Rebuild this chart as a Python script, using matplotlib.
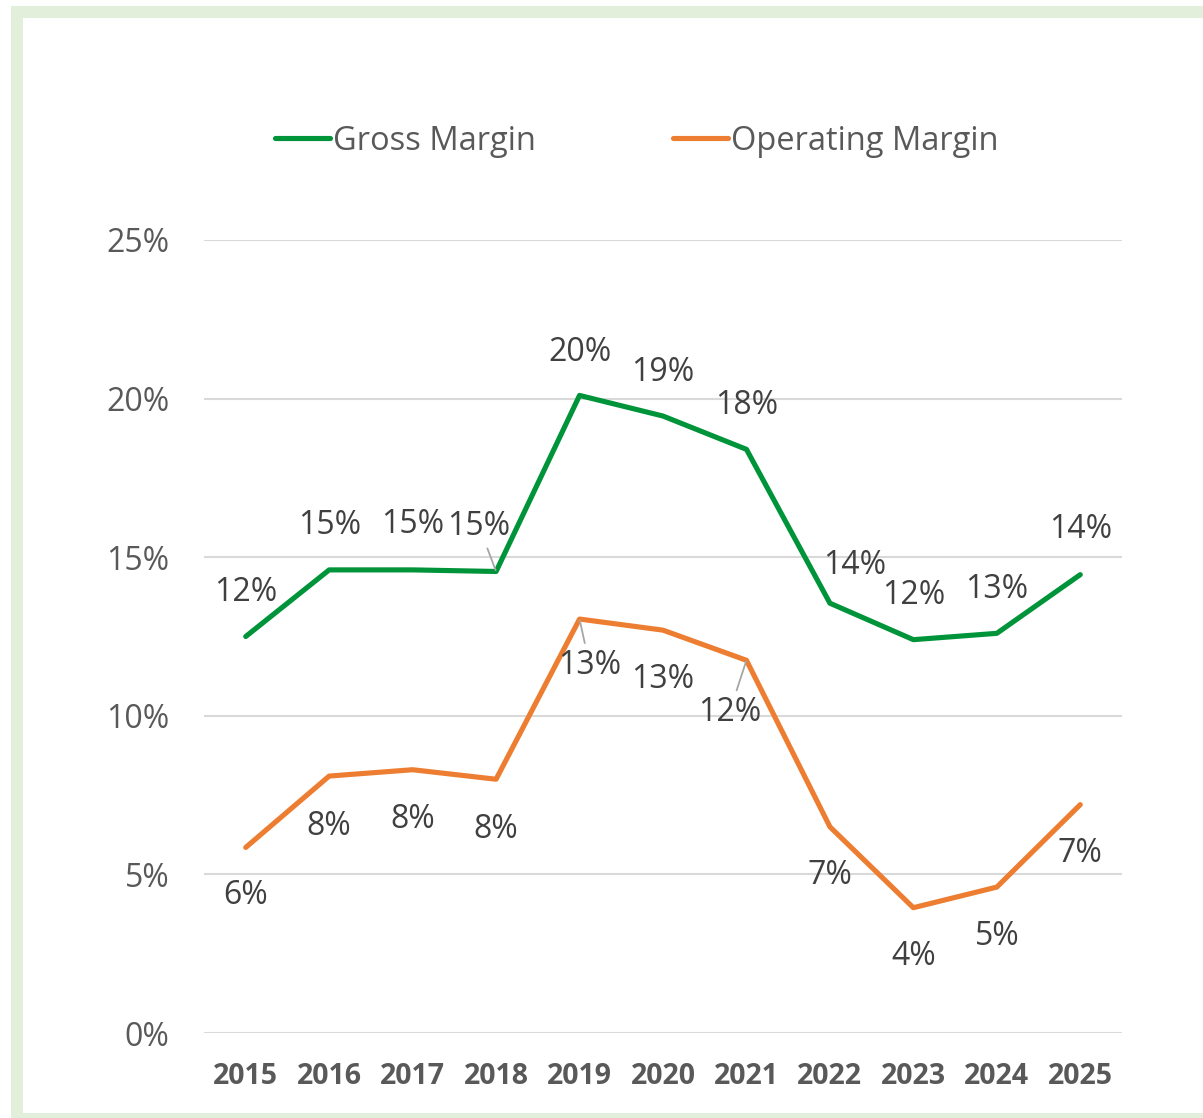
import matplotlib
matplotlib.use("Agg")
import matplotlib.pyplot as plt
from matplotlib.patches import Rectangle

plt.rcParams['font.family'] = ['Open Sans', 'Noto Sans', 'DejaVu Sans']

years = ['2015', '2016', '2017', '2018', '2019', '2020', '2021', '2022', '2023', '2024', '2025']
gross_margin = [12.5, 14.6, 14.6, 14.55, 20.1, 19.45, 18.4, 13.55, 12.4, 12.6, 14.45]
operating_margin = [5.85, 8.1, 8.3, 8.0, 13.05, 12.7, 11.75, 6.5, 3.95, 4.6, 7.2]
gross_labels = ['12%', '15%', '15%', '15%', '20%', '19%', '18%', '14%', '12%', '13%', '14%']
oper_labels = ['6%', '8%', '8%', '8%', '13%', '13%', '12%', '7%', '4%', '5%', '7%']

W, H = 1203, 1118
GREEN = '#00943A'
ORANGE = '#ED7D31'

# label offsets in pixels, and which ones get a leader line
gross_off = [(0, 44), (0, 44), (0, 45), (-17, 45), (0, 43), (0, 44), (0, 44),
             (25, 38), (0, 44), (0, 44), (0, 45)]
oper_off = [(0, -48), (0, -50), (0, -50), (0, -50), (10, -46), (0, -49), (-17, -52),
            (0, -49), (0, -49), (0, -49), (0, -49)]
gross_leader = {3}
oper_leader = {4, 6}

fig = plt.figure(figsize=(W / 100, H / 100), dpi=100)
fig.patch.set_facecolor('white')


def px(x0, y0, x1, y1):
    # pixel box (top-left origin) -> figure fraction rect
    return (x0 / W, 1 - y1 / H, (x1 - x0) / W, (y1 - y0) / H)


border = '#E2EFDA'
for box in [px(11, 6, 1203, 18), px(11, 6, 23, 1118), px(11, 1113, 1203, 1118)]:
    fig.add_artist(Rectangle(box[:2], box[2], box[3], transform=fig.transFigure,
                             facecolor=border, edgecolor='none'))

ax = fig.add_axes(px(204, 240, 1122, 1033))
x = list(range(len(years)))
ax.plot(x, gross_margin, color=GREEN, lw=3.7, label='Gross Margin', solid_capstyle='round')
ax.plot(x, operating_margin, color=ORANGE, lw=3.7, label='Operating Margin', solid_capstyle='round')

ax.set_xlim(-0.5, len(years) - 0.5)
ax.set_ylim(0, 25)
ax.set_yticks([0, 5, 10, 15, 20, 25])
ax.set_yticklabels([f'{v}%' for v in [0, 5, 10, 15, 20, 25]])
ax.set_xticks(x)
ax.set_xticklabels(years, fontweight='bold')
ax.yaxis.grid(True, color='#D9D9D9', lw=1.5)
ax.set_axisbelow(True)
for s in ax.spines.values():
    s.set_visible(False)
ax.tick_params(axis='y', length=0, pad=25, labelsize=23, labelcolor='#595959')
ax.tick_params(axis='x', length=0, pad=21, labelsize=20.5, labelcolor='#595959')

leader = dict(arrowstyle='-', color='#A6A6A6', lw=1.3, shrinkA=2, shrinkB=1)
for i in x:
    dx, dy = gross_off[i]
    kw = {'arrowprops': leader} if i in gross_leader else {}
    ax.annotate(gross_labels[i], (i, gross_margin[i]), xytext=(dx, dy),
                textcoords='offset pixels', ha='center', va='center',
                fontsize=23, color='#404040', **kw)
    dx, dy = oper_off[i]
    kw = {'arrowprops': leader} if i in oper_leader else {}
    ax.annotate(oper_labels[i], (i, operating_margin[i]), xytext=(dx, dy),
                textcoords='offset pixels', ha='center', va='center',
                fontsize=23, color='#404040', **kw)

fig.legend(loc='center', bbox_to_anchor=(637 / W, 1 - 141 / H), ncol=2, frameon=False,
           fontsize=23.5, labelcolor='#595959', handlelength=1.68, handletextpad=0.1,
           columnspacing=4.2)

fig.savefig('out.png', dpi=100)
